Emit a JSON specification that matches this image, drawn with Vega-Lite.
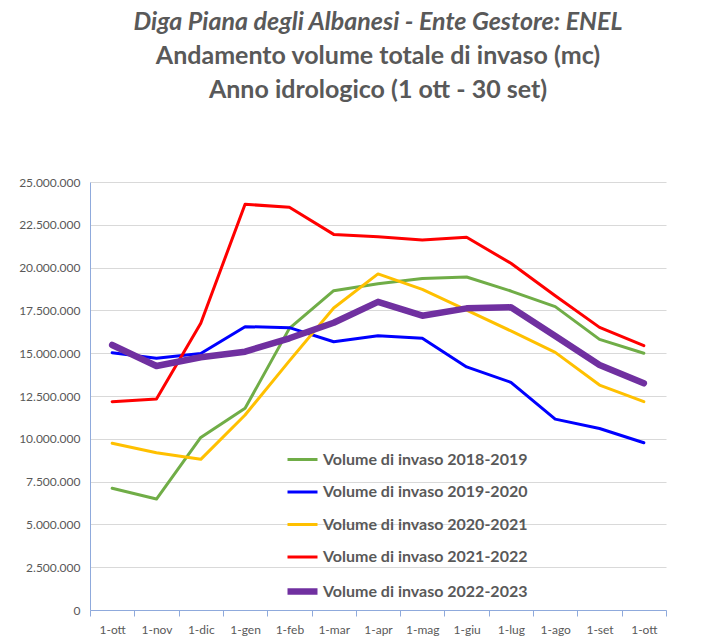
{
  "$schema": "https://vega.github.io/schema/vega-lite/v6.json",
  "width": 576,
  "height": 428,
  "autosize": {"type": "none"},
  "padding": {"left": 90, "top": 182, "right": 54, "bottom": 32},
  "background": "white",
  "config": {
    "locale": {"number": {"decimal": ",", "thousands": ".", "grouping": [3], "currency": ["€", ""]}},
    "font": "Lato",
    "view": {"stroke": null}
  },
  "title": {
    "text": "Diga Piana degli Albanesi - Ente Gestore: ENEL",
    "subtitle": ["Andamento volume totale di invaso (mc)", "Anno idrologico (1 ott - 30 set)"],
    "font": "Lato",
    "fontSize": 25,
    "fontWeight": "bold",
    "fontStyle": "italic",
    "color": "#595959",
    "subtitleFont": "Lato",
    "subtitleFontSize": 25,
    "subtitleFontWeight": "bold",
    "subtitleFontStyle": "normal",
    "subtitleColor": "#595959",
    "subtitleLineHeight": 34,
    "subtitlePadding": 9,
    "anchor": "middle",
    "offset": 73
  },
  "data": {
    "values": [
      {"m": 0, "serie": "Volume di invaso 2018-2019", "v": 7110000},
      {"m": 1, "serie": "Volume di invaso 2018-2019", "v": 6480000},
      {"m": 2, "serie": "Volume di invaso 2018-2019", "v": 10080000},
      {"m": 3, "serie": "Volume di invaso 2018-2019", "v": 11780000},
      {"m": 4, "serie": "Volume di invaso 2018-2019", "v": 16450000},
      {"m": 5, "serie": "Volume di invaso 2018-2019", "v": 18650000},
      {"m": 6, "serie": "Volume di invaso 2018-2019", "v": 19060000},
      {"m": 7, "serie": "Volume di invaso 2018-2019", "v": 19370000},
      {"m": 8, "serie": "Volume di invaso 2018-2019", "v": 19450000},
      {"m": 9, "serie": "Volume di invaso 2018-2019", "v": 18630000},
      {"m": 10, "serie": "Volume di invaso 2018-2019", "v": 17720000},
      {"m": 11, "serie": "Volume di invaso 2018-2019", "v": 15810000},
      {"m": 12, "serie": "Volume di invaso 2018-2019", "v": 15000000},
      {"m": 0, "serie": "Volume di invaso 2019-2020", "v": 15030000},
      {"m": 1, "serie": "Volume di invaso 2019-2020", "v": 14700000},
      {"m": 2, "serie": "Volume di invaso 2019-2020", "v": 14980000},
      {"m": 3, "serie": "Volume di invaso 2019-2020", "v": 16550000},
      {"m": 4, "serie": "Volume di invaso 2019-2020", "v": 16490000},
      {"m": 5, "serie": "Volume di invaso 2019-2020", "v": 15670000},
      {"m": 6, "serie": "Volume di invaso 2019-2020", "v": 16020000},
      {"m": 7, "serie": "Volume di invaso 2019-2020", "v": 15880000},
      {"m": 8, "serie": "Volume di invaso 2019-2020", "v": 14200000},
      {"m": 9, "serie": "Volume di invaso 2019-2020", "v": 13300000},
      {"m": 10, "serie": "Volume di invaso 2019-2020", "v": 11150000},
      {"m": 11, "serie": "Volume di invaso 2019-2020", "v": 10600000},
      {"m": 12, "serie": "Volume di invaso 2019-2020", "v": 9770000},
      {"m": 0, "serie": "Volume di invaso 2020-2021", "v": 9740000},
      {"m": 1, "serie": "Volume di invaso 2020-2021", "v": 9190000},
      {"m": 2, "serie": "Volume di invaso 2020-2021", "v": 8800000},
      {"m": 3, "serie": "Volume di invaso 2020-2021", "v": 11390000},
      {"m": 4, "serie": "Volume di invaso 2020-2021", "v": 14550000},
      {"m": 5, "serie": "Volume di invaso 2020-2021", "v": 17640000},
      {"m": 6, "serie": "Volume di invaso 2020-2021", "v": 19630000},
      {"m": 7, "serie": "Volume di invaso 2020-2021", "v": 18730000},
      {"m": 8, "serie": "Volume di invaso 2020-2021", "v": 17520000},
      {"m": 9, "serie": "Volume di invaso 2020-2021", "v": 16300000},
      {"m": 10, "serie": "Volume di invaso 2020-2021", "v": 15050000},
      {"m": 11, "serie": "Volume di invaso 2020-2021", "v": 13140000},
      {"m": 12, "serie": "Volume di invaso 2020-2021", "v": 12170000},
      {"m": 0, "serie": "Volume di invaso 2021-2022", "v": 12170000},
      {"m": 1, "serie": "Volume di invaso 2021-2022", "v": 12320000},
      {"m": 2, "serie": "Volume di invaso 2021-2022", "v": 16750000},
      {"m": 3, "serie": "Volume di invaso 2021-2022", "v": 23700000},
      {"m": 4, "serie": "Volume di invaso 2021-2022", "v": 23520000},
      {"m": 5, "serie": "Volume di invaso 2021-2022", "v": 21940000},
      {"m": 6, "serie": "Volume di invaso 2021-2022", "v": 21800000},
      {"m": 7, "serie": "Volume di invaso 2021-2022", "v": 21610000},
      {"m": 8, "serie": "Volume di invaso 2021-2022", "v": 21770000},
      {"m": 9, "serie": "Volume di invaso 2021-2022", "v": 20250000},
      {"m": 10, "serie": "Volume di invaso 2021-2022", "v": 18360000},
      {"m": 11, "serie": "Volume di invaso 2021-2022", "v": 16510000},
      {"m": 12, "serie": "Volume di invaso 2021-2022", "v": 15440000},
      {"m": 0, "serie": "Volume di invaso 2022-2023", "v": 15480000},
      {"m": 1, "serie": "Volume di invaso 2022-2023", "v": 14250000},
      {"m": 2, "serie": "Volume di invaso 2022-2023", "v": 14760000},
      {"m": 3, "serie": "Volume di invaso 2022-2023", "v": 15090000},
      {"m": 4, "serie": "Volume di invaso 2022-2023", "v": 15870000},
      {"m": 5, "serie": "Volume di invaso 2022-2023", "v": 16780000},
      {"m": 6, "serie": "Volume di invaso 2022-2023", "v": 18000000},
      {"m": 7, "serie": "Volume di invaso 2022-2023", "v": 17190000},
      {"m": 8, "serie": "Volume di invaso 2022-2023", "v": 17620000},
      {"m": 9, "serie": "Volume di invaso 2022-2023", "v": 17680000},
      {"m": 10, "serie": "Volume di invaso 2022-2023", "v": 16000000},
      {"m": 11, "serie": "Volume di invaso 2022-2023", "v": 14310000},
      {"m": 12, "serie": "Volume di invaso 2022-2023", "v": 13240000}
    ]
  },
  "mark": {"type": "line", "strokeCap": "round", "strokeJoin": "round"},
  "encoding": {
    "x": {
      "field": "m",
      "type": "ordinal",
      "scale": {"paddingInner": 0, "paddingOuter": 0},
      "axis": {
        "title": null,
        "labelAngle": 0,
        "labelExpr": "['1-ott','1-nov','1-dic','1-gen','1-feb','1-mar','1-apr','1-mag','1-giu','1-lug','1-ago','1-set','1-ott'][datum.value]",
        "labelFont": "Lato",
        "labelFontSize": 12,
        "labelColor": "#595959",
        "labelPadding": 8,
        "domainColor": "#8FAADC",
        "tickColor": "#8FAADC",
        "tickBand": "extent",
        "tickSize": 6,
        "grid": false
      }
    },
    "y": {
      "field": "v",
      "type": "quantitative",
      "scale": {"domain": [0, 25000000], "nice": false},
      "axis": {
        "title": null,
        "values": [0, 2500000, 5000000, 7500000, 10000000, 12500000, 15000000, 17500000, 20000000, 22500000, 25000000],
        "format": ",d",
        "labelFont": "Lato",
        "labelFontSize": 12,
        "labelColor": "#595959",
        "labelPadding": 10,
        "domainColor": "#8FAADC",
        "ticks": false,
        "gridColor": "#D9D9D9",
        "gridWidth": 1
      }
    },
    "color": {
      "field": "serie",
      "type": "nominal",
      "scale": {
        "domain": ["Volume di invaso 2018-2019", "Volume di invaso 2019-2020", "Volume di invaso 2020-2021", "Volume di invaso 2021-2022", "Volume di invaso 2022-2023"],
        "range": ["#70AD47", "#0000FF", "#FFC000", "#FF0000", "#7030A0"]
      },
      "legend": {
        "title": null,
        "orient": "none",
        "legendX": 194,
        "legendY": 261,
        "symbolType": "stroke",
        "symbolSize": 900,
        "labelFont": "Lato",
        "labelFontSize": 16,
        "labelFontWeight": "bold",
        "labelColor": "#595959",
        "labelOffset": 2,
        "rowPadding": 7.5,
        "labelLimit": 400
      }
    },
    "strokeWidth": {
      "field": "serie",
      "type": "nominal",
      "scale": {
        "type": "ordinal",
        "domain": ["Volume di invaso 2018-2019", "Volume di invaso 2019-2020", "Volume di invaso 2020-2021", "Volume di invaso 2021-2022", "Volume di invaso 2022-2023"],
        "range": [3, 3, 3, 3, 6.5]
      }
    }
  }
}
